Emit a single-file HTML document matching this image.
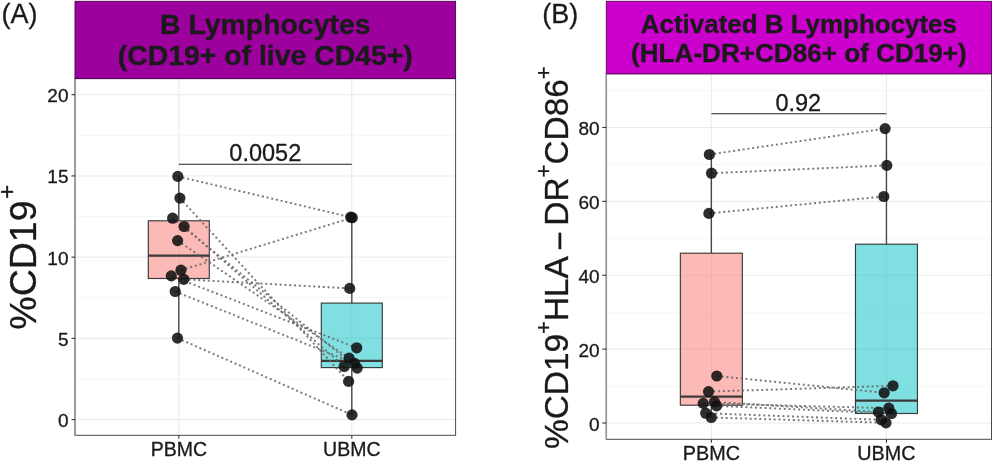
<!DOCTYPE html>
<html lang="en"><head><meta charset="utf-8"><title>B Lymphocytes</title>
<style>html,body{margin:0;padding:0;background:#fff}svg{display:block;filter:blur(0.4px)}text{font-family:"Liberation Sans",Arial,sans-serif;fill:#1a1a1a;stroke:#1a1a1a;stroke-width:.3px}</style>
</head><body>
<svg width="993" height="462" viewBox="0 0 993 462">
<rect width="993" height="462" fill="#fff"/>
<rect x="75" y="78.6" width="380.6" height="356.70000000000005" fill="#fff"/>
<line x1="75" x2="455.6" y1="378.99" y2="378.99" stroke="#f4f4f4" stroke-width="0.8"/>
<line x1="75" x2="455.6" y1="297.76" y2="297.76" stroke="#f4f4f4" stroke-width="0.8"/>
<line x1="75" x2="455.6" y1="216.54" y2="216.54" stroke="#f4f4f4" stroke-width="0.8"/>
<line x1="75" x2="455.6" y1="135.31" y2="135.31" stroke="#f4f4f4" stroke-width="0.8"/>
<line x1="75" x2="455.6" y1="419.60" y2="419.60" stroke="#ebebeb" stroke-width="1.1"/>
<line x1="75" x2="455.6" y1="338.38" y2="338.38" stroke="#ebebeb" stroke-width="1.1"/>
<line x1="75" x2="455.6" y1="257.15" y2="257.15" stroke="#ebebeb" stroke-width="1.1"/>
<line x1="75" x2="455.6" y1="175.93" y2="175.93" stroke="#ebebeb" stroke-width="1.1"/>
<line x1="75" x2="455.6" y1="94.70" y2="94.70" stroke="#ebebeb" stroke-width="1.1"/>
<line x1="178.80" x2="178.80" y1="78.6" y2="435.3" stroke="#ebebeb" stroke-width="1.1"/>
<line x1="351.80" x2="351.80" y1="78.6" y2="435.3" stroke="#ebebeb" stroke-width="1.1"/>
<line x1="178.80" x2="178.80" y1="176.4" y2="220.8" stroke="#484848" stroke-width="1.4"/>
<line x1="178.80" x2="178.80" y1="278.5" y2="338.1" stroke="#484848" stroke-width="1.4"/>
<rect x="148.30" y="220.8" width="61" height="57.70" fill="#f8766d" fill-opacity="0.5" stroke="#3a3a3a" stroke-width="1.15"/>
<line x1="148.30" x2="209.30" y1="255.6" y2="255.6" stroke="#3a3a3a" stroke-width="2.2"/>
<line x1="351.80" x2="351.80" y1="217.4" y2="303.1" stroke="#484848" stroke-width="1.4"/>
<line x1="351.80" x2="351.80" y1="367.6" y2="414.9" stroke="#484848" stroke-width="1.4"/>
<rect x="321.30" y="303.1" width="61" height="64.50" fill="#00bfc4" fill-opacity="0.5" stroke="#3a3a3a" stroke-width="1.15"/>
<line x1="321.30" x2="382.30" y1="360.8" y2="360.8" stroke="#3a3a3a" stroke-width="2.2"/>
<line x1="177.8" y1="176.4" x2="350.7" y2="217.2" stroke="#686868" stroke-opacity="0.88" stroke-width="1.95" stroke-dasharray="2 2.8"/>
<line x1="179.9" y1="198.1" x2="348.6" y2="381.4" stroke="#686868" stroke-opacity="0.88" stroke-width="1.95" stroke-dasharray="2 2.8"/>
<line x1="172.6" y1="218.2" x2="357.2" y2="368.1" stroke="#686868" stroke-opacity="0.88" stroke-width="1.95" stroke-dasharray="2 2.8"/>
<line x1="184.1" y1="226.5" x2="344.2" y2="366.5" stroke="#686868" stroke-opacity="0.88" stroke-width="1.95" stroke-dasharray="2 2.8"/>
<line x1="177.6" y1="240.6" x2="349.1" y2="358.2" stroke="#686868" stroke-opacity="0.88" stroke-width="1.95" stroke-dasharray="2 2.8"/>
<line x1="181" y1="270.2" x2="352.3" y2="217.7" stroke="#686868" stroke-opacity="0.88" stroke-width="1.95" stroke-dasharray="2 2.8"/>
<line x1="171.3" y1="275.9" x2="356.7" y2="347.8" stroke="#686868" stroke-opacity="0.88" stroke-width="1.95" stroke-dasharray="2 2.8"/>
<line x1="183.8" y1="279.3" x2="349.7" y2="288.4" stroke="#686868" stroke-opacity="0.88" stroke-width="1.95" stroke-dasharray="2 2.8"/>
<line x1="175.2" y1="291.5" x2="354.6" y2="363.4" stroke="#686868" stroke-opacity="0.88" stroke-width="1.95" stroke-dasharray="2 2.8"/>
<line x1="177.5" y1="338.1" x2="352" y2="414.9" stroke="#686868" stroke-opacity="0.88" stroke-width="1.95" stroke-dasharray="2 2.8"/>
<circle cx="177.8" cy="176.4" r="5.6" fill="#111" fill-opacity="0.88"/>
<circle cx="179.9" cy="198.1" r="5.6" fill="#111" fill-opacity="0.88"/>
<circle cx="172.6" cy="218.2" r="5.6" fill="#111" fill-opacity="0.88"/>
<circle cx="184.1" cy="226.5" r="5.6" fill="#111" fill-opacity="0.88"/>
<circle cx="177.6" cy="240.6" r="5.6" fill="#111" fill-opacity="0.88"/>
<circle cx="181" cy="270.2" r="5.6" fill="#111" fill-opacity="0.88"/>
<circle cx="171.3" cy="275.9" r="5.6" fill="#111" fill-opacity="0.88"/>
<circle cx="183.8" cy="279.3" r="5.6" fill="#111" fill-opacity="0.88"/>
<circle cx="175.2" cy="291.5" r="5.6" fill="#111" fill-opacity="0.88"/>
<circle cx="177.5" cy="338.1" r="5.6" fill="#111" fill-opacity="0.88"/>
<circle cx="350.7" cy="217.2" r="5.6" fill="#111" fill-opacity="0.88"/>
<circle cx="348.6" cy="381.4" r="5.6" fill="#111" fill-opacity="0.88"/>
<circle cx="357.2" cy="368.1" r="5.6" fill="#111" fill-opacity="0.88"/>
<circle cx="344.2" cy="366.5" r="5.6" fill="#111" fill-opacity="0.88"/>
<circle cx="349.1" cy="358.2" r="5.6" fill="#111" fill-opacity="0.88"/>
<circle cx="352.3" cy="217.7" r="5.6" fill="#111" fill-opacity="0.88"/>
<circle cx="356.7" cy="347.8" r="5.6" fill="#111" fill-opacity="0.88"/>
<circle cx="349.7" cy="288.4" r="5.6" fill="#111" fill-opacity="0.88"/>
<circle cx="354.6" cy="363.4" r="5.6" fill="#111" fill-opacity="0.88"/>
<circle cx="352" cy="414.9" r="5.6" fill="#111" fill-opacity="0.88"/>
<line x1="178.8" x2="351.8" y1="164.2" y2="164.2" stroke="#222" stroke-width="1.1"/>
<text x="265.3" y="161" font-size="23.5" text-anchor="middle">0.0052</text>
<rect x="75" y="78.6" width="380.6" height="356.70000000000005" fill="none" stroke="#4a4a4a" stroke-width="1"/>
<line x1="75" x2="75" y1="78.6" y2="435.3" stroke="#9a9a9a" stroke-width="1.6"/>
<rect x="75" y="1.3" width="380.6" height="77.3" fill="#9c009d" stroke="#4a004a" stroke-width="0.9"/>
<text x="265.3" y="34" font-size="28.4" font-weight="bold" text-anchor="middle" fill="#0a000a">B Lymphocytes</text>
<text x="265.3" y="64.5" font-size="28.4" font-weight="bold" text-anchor="middle" fill="#0a000a">(CD19+ of live CD45+)</text>
<line x1="71.5" x2="75" y1="419.60" y2="419.60" stroke="#333" stroke-width="1.1"/>
<text x="68.5" y="427.10" font-size="19" text-anchor="end" fill="#1a1a1a">0</text>
<line x1="71.5" x2="75" y1="338.38" y2="338.38" stroke="#333" stroke-width="1.1"/>
<text x="68.5" y="345.88" font-size="19" text-anchor="end" fill="#1a1a1a">5</text>
<line x1="71.5" x2="75" y1="257.15" y2="257.15" stroke="#333" stroke-width="1.1"/>
<text x="68.5" y="264.65" font-size="19" text-anchor="end" fill="#1a1a1a">10</text>
<line x1="71.5" x2="75" y1="175.93" y2="175.93" stroke="#333" stroke-width="1.1"/>
<text x="68.5" y="183.43" font-size="19" text-anchor="end" fill="#1a1a1a">15</text>
<line x1="71.5" x2="75" y1="94.70" y2="94.70" stroke="#333" stroke-width="1.1"/>
<text x="68.5" y="102.20" font-size="19" text-anchor="end" fill="#1a1a1a">20</text>
<line x1="178.80" x2="178.80" y1="435.3" y2="438.8" stroke="#333" stroke-width="1.1"/>
<text x="178.80" y="455.9" font-size="19.5" text-anchor="middle" fill="#1a1a1a">PBMC</text>
<line x1="351.80" x2="351.80" y1="435.3" y2="438.8" stroke="#333" stroke-width="1.1"/>
<text x="351.80" y="455.9" font-size="19.5" text-anchor="middle" fill="#1a1a1a">UBMC</text>
<text transform="translate(36,257.2) rotate(-90)" font-size="37.5" text-anchor="middle" fill="#000">%CD19<tspan font-size="24.5" dy="-20.7" dx="1.4">+</tspan></text>
<text x="1.5" y="23" font-size="27" fill="#111">(A)</text>
<rect x="606.3" y="73.8" width="385.20000000000005" height="365.5" fill="#fff"/>
<line x1="606.3" x2="991.5" y1="386.06" y2="386.06" stroke="#f4f4f4" stroke-width="0.8"/>
<line x1="606.3" x2="991.5" y1="312.18" y2="312.18" stroke="#f4f4f4" stroke-width="0.8"/>
<line x1="606.3" x2="991.5" y1="238.30" y2="238.30" stroke="#f4f4f4" stroke-width="0.8"/>
<line x1="606.3" x2="991.5" y1="164.42" y2="164.42" stroke="#f4f4f4" stroke-width="0.8"/>
<line x1="606.3" x2="991.5" y1="90.54" y2="90.54" stroke="#f4f4f4" stroke-width="0.8"/>
<line x1="606.3" x2="991.5" y1="423.00" y2="423.00" stroke="#ebebeb" stroke-width="1.1"/>
<line x1="606.3" x2="991.5" y1="349.12" y2="349.12" stroke="#ebebeb" stroke-width="1.1"/>
<line x1="606.3" x2="991.5" y1="275.24" y2="275.24" stroke="#ebebeb" stroke-width="1.1"/>
<line x1="606.3" x2="991.5" y1="201.36" y2="201.36" stroke="#ebebeb" stroke-width="1.1"/>
<line x1="606.3" x2="991.5" y1="127.48" y2="127.48" stroke="#ebebeb" stroke-width="1.1"/>
<line x1="711.35" x2="711.35" y1="73.8" y2="439.3" stroke="#ebebeb" stroke-width="1.1"/>
<line x1="886.45" x2="886.45" y1="73.8" y2="439.3" stroke="#ebebeb" stroke-width="1.1"/>
<line x1="711.35" x2="711.35" y1="154.5" y2="253.2" stroke="#484848" stroke-width="1.4"/>
<line x1="711.35" x2="711.35" y1="405.2" y2="417.5" stroke="#484848" stroke-width="1.4"/>
<rect x="680.35" y="253.2" width="62" height="152.00" fill="#f8766d" fill-opacity="0.5" stroke="#3a3a3a" stroke-width="1.15"/>
<line x1="680.35" x2="742.35" y1="396.6" y2="396.6" stroke="#3a3a3a" stroke-width="2.2"/>
<line x1="886.45" x2="886.45" y1="128.6" y2="244.2" stroke="#484848" stroke-width="1.4"/>
<line x1="886.45" x2="886.45" y1="413.5" y2="422.8" stroke="#484848" stroke-width="1.4"/>
<rect x="855.45" y="244.2" width="62" height="169.30" fill="#00bfc4" fill-opacity="0.5" stroke="#3a3a3a" stroke-width="1.15"/>
<line x1="855.45" x2="917.45" y1="400.6" y2="400.6" stroke="#3a3a3a" stroke-width="2.2"/>
<line x1="709.4" y1="154.5" x2="885.1" y2="128.6" stroke="#686868" stroke-opacity="0.88" stroke-width="1.95" stroke-dasharray="2 2.8"/>
<line x1="711.5" y1="173.2" x2="886.8" y2="165.4" stroke="#686868" stroke-opacity="0.88" stroke-width="1.95" stroke-dasharray="2 2.8"/>
<line x1="708.9" y1="213.4" x2="883.8" y2="196.5" stroke="#686868" stroke-opacity="0.88" stroke-width="1.95" stroke-dasharray="2 2.8"/>
<line x1="716.8" y1="376" x2="884.2" y2="392.8" stroke="#686868" stroke-opacity="0.88" stroke-width="1.95" stroke-dasharray="2 2.8"/>
<line x1="708.5" y1="391.6" x2="893" y2="385.8" stroke="#686868" stroke-opacity="0.88" stroke-width="1.95" stroke-dasharray="2 2.8"/>
<line x1="703.2" y1="403.4" x2="888.8" y2="408.2" stroke="#686868" stroke-opacity="0.88" stroke-width="1.95" stroke-dasharray="2 2.8"/>
<line x1="714.5" y1="401.9" x2="878.4" y2="412" stroke="#686868" stroke-opacity="0.88" stroke-width="1.95" stroke-dasharray="2 2.8"/>
<line x1="716.6" y1="405.9" x2="891.5" y2="413.5" stroke="#686868" stroke-opacity="0.88" stroke-width="1.95" stroke-dasharray="2 2.8"/>
<line x1="705.7" y1="413.2" x2="881.2" y2="419.8" stroke="#686868" stroke-opacity="0.88" stroke-width="1.95" stroke-dasharray="2 2.8"/>
<line x1="711.3" y1="417.5" x2="886" y2="422.8" stroke="#686868" stroke-opacity="0.88" stroke-width="1.95" stroke-dasharray="2 2.8"/>
<circle cx="709.4" cy="154.5" r="5.6" fill="#111" fill-opacity="0.88"/>
<circle cx="711.5" cy="173.2" r="5.6" fill="#111" fill-opacity="0.88"/>
<circle cx="708.9" cy="213.4" r="5.6" fill="#111" fill-opacity="0.88"/>
<circle cx="716.8" cy="376" r="5.6" fill="#111" fill-opacity="0.88"/>
<circle cx="708.5" cy="391.6" r="5.6" fill="#111" fill-opacity="0.88"/>
<circle cx="703.2" cy="403.4" r="5.6" fill="#111" fill-opacity="0.88"/>
<circle cx="714.5" cy="401.9" r="5.6" fill="#111" fill-opacity="0.88"/>
<circle cx="716.6" cy="405.9" r="5.6" fill="#111" fill-opacity="0.88"/>
<circle cx="705.7" cy="413.2" r="5.6" fill="#111" fill-opacity="0.88"/>
<circle cx="711.3" cy="417.5" r="5.6" fill="#111" fill-opacity="0.88"/>
<circle cx="885.1" cy="128.6" r="5.6" fill="#111" fill-opacity="0.88"/>
<circle cx="886.8" cy="165.4" r="5.6" fill="#111" fill-opacity="0.88"/>
<circle cx="883.8" cy="196.5" r="5.6" fill="#111" fill-opacity="0.88"/>
<circle cx="884.2" cy="392.8" r="5.6" fill="#111" fill-opacity="0.88"/>
<circle cx="893" cy="385.8" r="5.6" fill="#111" fill-opacity="0.88"/>
<circle cx="888.8" cy="408.2" r="5.6" fill="#111" fill-opacity="0.88"/>
<circle cx="878.4" cy="412" r="5.6" fill="#111" fill-opacity="0.88"/>
<circle cx="891.5" cy="413.5" r="5.6" fill="#111" fill-opacity="0.88"/>
<circle cx="881.2" cy="419.8" r="5.6" fill="#111" fill-opacity="0.88"/>
<circle cx="886" cy="422.8" r="5.6" fill="#111" fill-opacity="0.88"/>
<line x1="711.4" x2="886.4" y1="113.7" y2="113.7" stroke="#222" stroke-width="1.1"/>
<text x="798.9" y="110.9" font-size="23.5" dx="-0.6" text-anchor="middle">0.92</text>
<rect x="606.3" y="73.8" width="385.20000000000005" height="365.5" fill="none" stroke="#4a4a4a" stroke-width="1"/>
<line x1="606.3" x2="606.3" y1="73.8" y2="439.3" stroke="#9a9a9a" stroke-width="1.6"/>
<rect x="606.3" y="1.3" width="385.20000000000005" height="72.5" fill="#cc00cc" stroke="#5a005a" stroke-width="0.9"/>
<text x="798.9" y="33.3" font-size="25.95" font-weight="bold" text-anchor="middle" fill="#0a000a">Activated B Lymphocytes</text>
<text x="798.9" y="61.8" font-size="26.1" font-weight="bold" text-anchor="middle" fill="#0a000a">(HLA-DR+CD86+ of CD19+)</text>
<line x1="602.3" x2="606.3" y1="423.00" y2="423.00" stroke="#333" stroke-width="1.1"/>
<text x="599.6" y="430.50" font-size="19" text-anchor="end" fill="#1a1a1a">0</text>
<line x1="602.3" x2="606.3" y1="349.12" y2="349.12" stroke="#333" stroke-width="1.1"/>
<text x="599.6" y="356.62" font-size="19" text-anchor="end" fill="#1a1a1a">20</text>
<line x1="602.3" x2="606.3" y1="275.24" y2="275.24" stroke="#333" stroke-width="1.1"/>
<text x="599.6" y="282.74" font-size="19" text-anchor="end" fill="#1a1a1a">40</text>
<line x1="602.3" x2="606.3" y1="201.36" y2="201.36" stroke="#333" stroke-width="1.1"/>
<text x="599.6" y="208.86" font-size="19" text-anchor="end" fill="#1a1a1a">60</text>
<line x1="602.3" x2="606.3" y1="127.48" y2="127.48" stroke="#333" stroke-width="1.1"/>
<text x="599.6" y="134.98" font-size="19" text-anchor="end" fill="#1a1a1a">80</text>
<line x1="711.35" x2="711.35" y1="439.3" y2="442.8" stroke="#333" stroke-width="1.1"/>
<text x="711.35" y="460.4" font-size="19.8" text-anchor="middle" fill="#1a1a1a">PBMC</text>
<line x1="886.45" x2="886.45" y1="439.3" y2="442.8" stroke="#333" stroke-width="1.1"/>
<text x="886.45" y="460.4" font-size="19.8" text-anchor="middle" fill="#1a1a1a">UBMC</text>
<text transform="translate(567.6,449) rotate(-90)" font-size="33.4" fill="#000">%CD19<tspan font-size="22" dy="-17">+</tspan><tspan dy="17">HLA</tspan><tspan dy="3.3" dx="-2"> − </tspan><tspan dy="-3.3" dx="-3.75">DR</tspan><tspan font-size="22" dy="-17">+</tspan><tspan dy="17">CD86</tspan><tspan font-size="22" dy="-17">+</tspan></text>
<text x="542.3" y="23" font-size="27" fill="#111">(B)</text>
</svg></body></html>
